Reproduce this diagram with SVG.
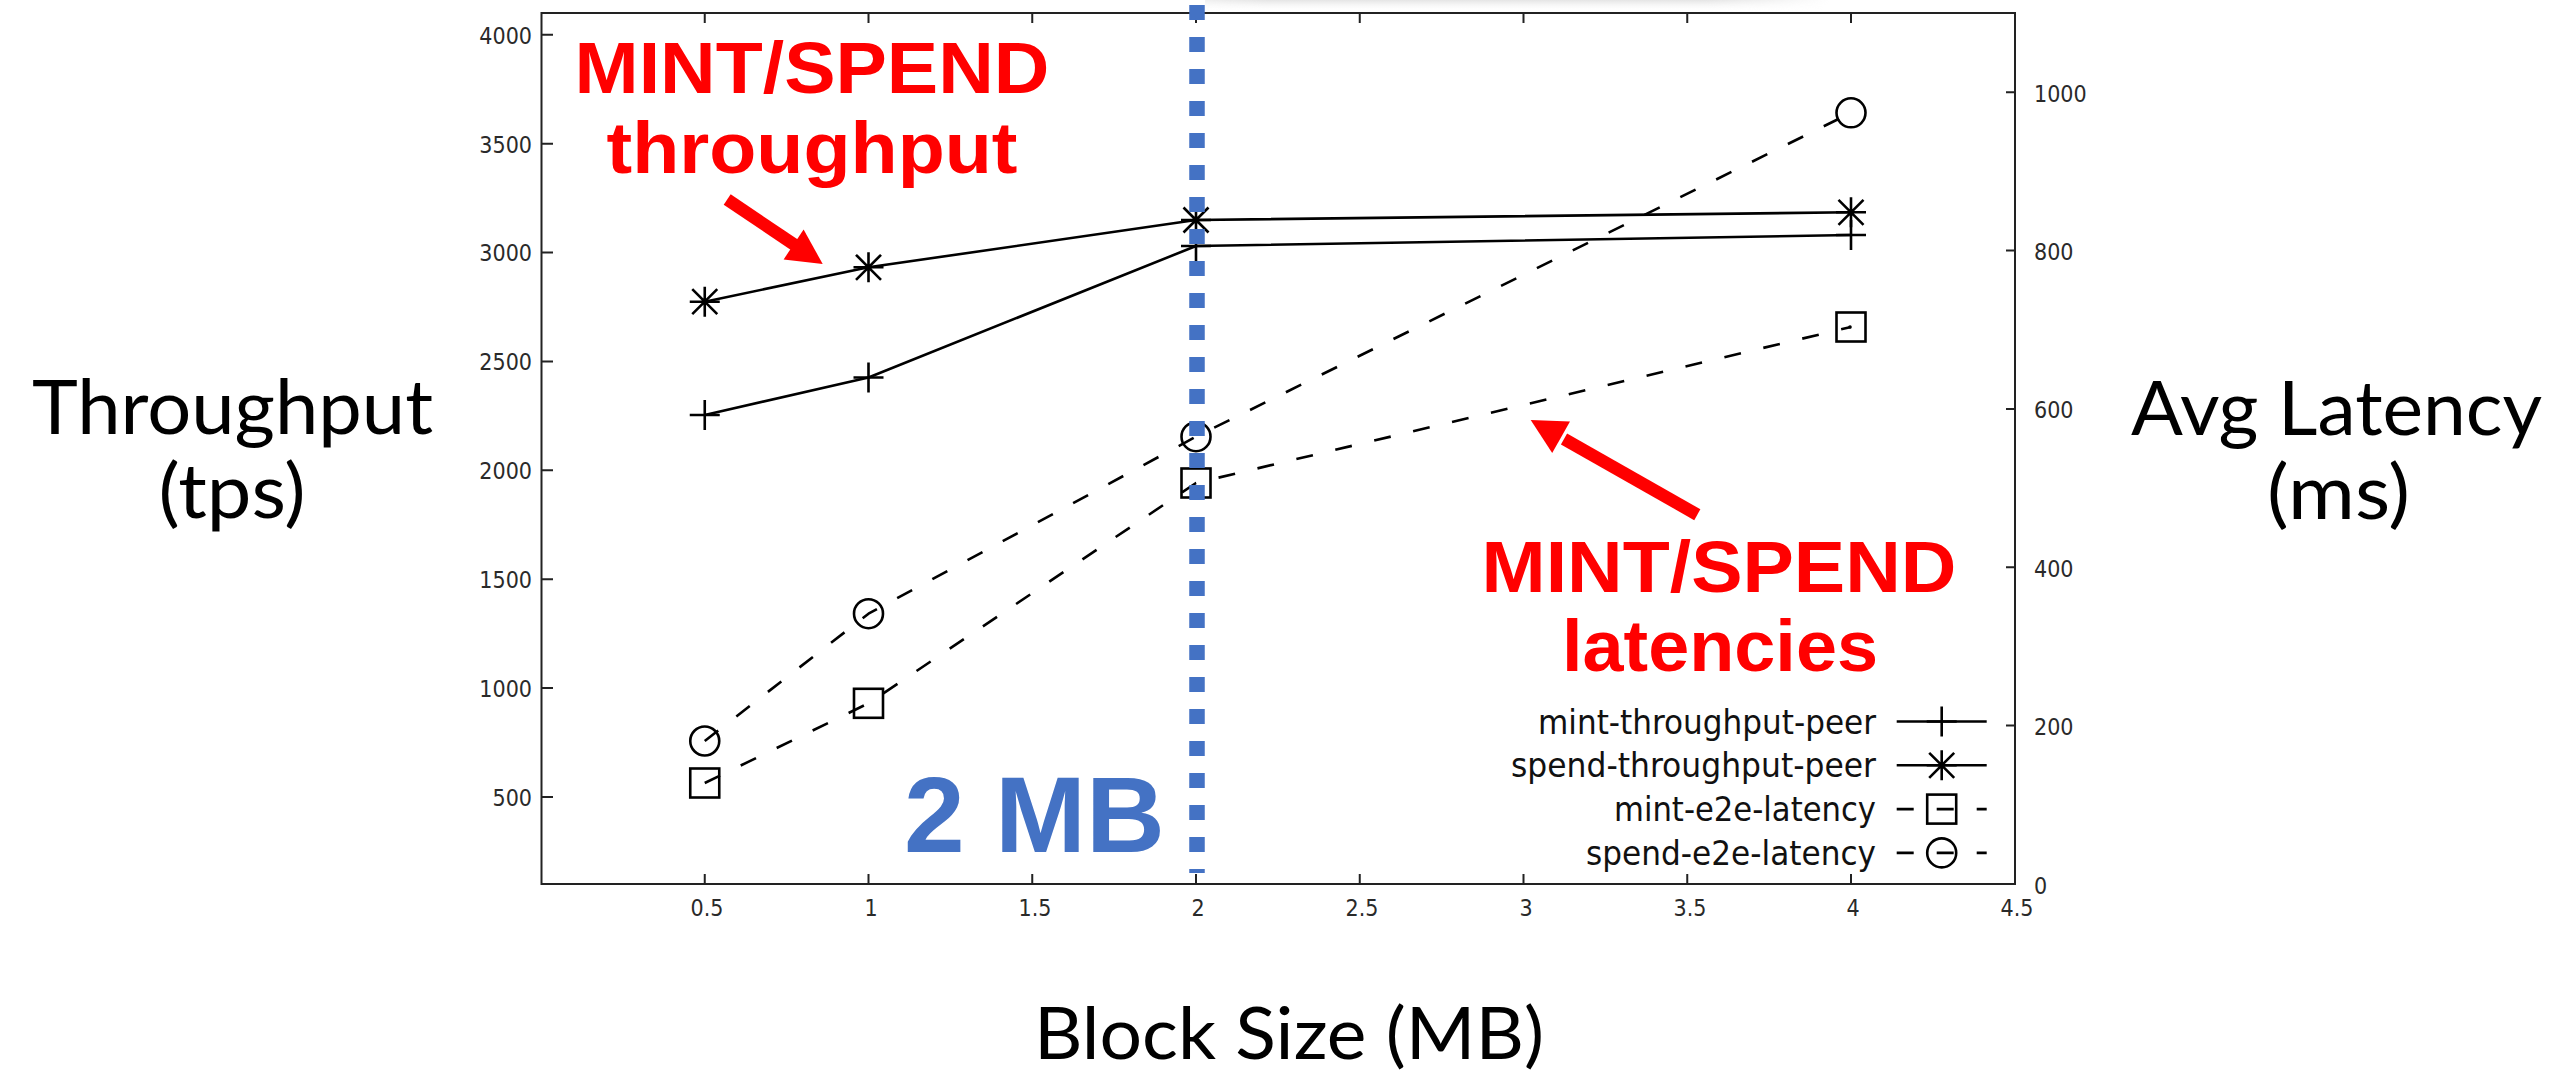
<svg xmlns="http://www.w3.org/2000/svg" xmlns:xlink="http://www.w3.org/1999/xlink" width="2554" height="1071" viewBox="0 0 2554 1071">
  <style>
    .frame { fill: none; stroke: #222; stroke-width: 2; }
    .tick { stroke: #222; stroke-width: 2; }
    .ticklbl { font-family: "DejaVu Sans Condensed", "DejaVu Sans", sans-serif; font-size: 23px; fill: #2a2a2a; }
    .series { fill: none; stroke: #000; stroke-width: 2.6; stroke-linejoin: round; }
    .dashed { stroke-dasharray: 17 23; }
    .pts { fill: none; stroke: #000; stroke-width: 2.6; }
    .legend-txt { font-family: "DejaVu Sans Condensed", "DejaVu Sans", sans-serif; font-size: 33px; fill: #111; text-anchor: end; }
    .axis-title { font-family: Lato, "Noto Sans", "Liberation Sans", sans-serif; font-weight: 400; fill: #000; text-anchor: middle; }
    .callout { font-family: "Liberation Sans", Arial, sans-serif; font-weight: 700; font-size: 72px; fill: #ff0000; text-anchor: middle; }
    .arrow-shaft { stroke: #ff0000; stroke-width: 12.5; fill: none; }
    .arrow-head { fill: #ff0000; }
    .marker-line { stroke: #4472c4; stroke-width: 15.5; stroke-dasharray: 15 17; fill: none; }
    .marker-lbl { font-family: "Liberation Sans", Arial, sans-serif; font-weight: 700; font-size: 107px; fill: #4472c4; }
  </style>
  <defs>
    <!-- gnuplot-style point symbols, centred on the origin -->
    <path id="pt-plus" d="M-15 0H15M0 -15V15"/>
    <path id="pt-star" d="M-15 0H15M0 -15V15M-12.5 -12.5L12.5 12.5M-12.5 12.5L12.5 -12.5"/>
    <rect id="pt-box" x="-14.5" y="-14.5" width="29" height="29"/>
    <circle id="pt-ring" r="14.5"/>
    <linearGradient id="shadeV" x1="0" y1="0" x2="0" y2="1">
      <stop offset="0" stop-color="#e4e4e4"/>
      <stop offset="1" stop-color="#ffffff" stop-opacity="0"/>
    </linearGradient>
    <linearGradient id="fadeX" x1="0" y1="0" x2="1" y2="0">
      <stop offset="0" stop-color="#fff" stop-opacity="0.6"/>
      <stop offset="0.1" stop-color="#fff"/>
      <stop offset="0.8" stop-color="#fff"/>
      <stop offset="1" stop-color="#fff" stop-opacity="0"/>
    </linearGradient>
    <mask id="shadeMask">
      <rect x="1205" y="0" width="625" height="12" fill="url(#fadeX)"/>
    </mask>
  </defs>

  <rect width="2554" height="1071" fill="#fff"/>

  <!-- faint shadow along the top edge -->
  <rect x="1205" y="0" width="625" height="12" fill="url(#shadeV)" mask="url(#shadeMask)"/>

  <!-- plot frame and ticks -->
  <g id="axes">
    <rect class="frame" x="541.5" y="13" width="1473.5" height="871"/>
    <!-- x ticks, bottom and mirrored on top -->
    <path class="tick" d="M704.75 884V874M868.5 884V874M1032.25 884V874M1196 884V874M1359.75 884V874M1523.5 884V874M1687.25 884V874M1851 884V874
                          M704.75 13V23M868.5 13V23M1032.25 13V23M1196 13V23M1359.75 13V23M1523.5 13V23M1687.25 13V23M1851 13V23"/>
    <!-- left (tps) ticks -->
    <path class="tick" d="M541.5 796.9H553M541.5 688H553M541.5 579.2H553M541.5 470.3H553M541.5 361.4H553M541.5 252.5H553M541.5 143.7H553M541.5 34.8H553"/>
    <!-- right (ms) ticks -->
    <path class="tick" d="M2015 725.6H2006M2015 567.3H2006M2015 408.9H2006M2015 250.6H2006M2015 92.2H2006"/>
  </g>

  <g id="y-labels-left" class="ticklbl" text-anchor="end">
    <text x="532" y="806">500</text>
    <text x="532" y="697">1000</text>
    <text x="532" y="588">1500</text>
    <text x="532" y="479">2000</text>
    <text x="532" y="370">2500</text>
    <text x="532" y="261">3000</text>
    <text x="532" y="153">3500</text>
    <text x="532" y="44">4000</text>
  </g>

  <g id="y-labels-right" class="ticklbl" text-anchor="start">
    <text x="2034" y="894">0</text>
    <text x="2034" y="735">200</text>
    <text x="2034" y="577">400</text>
    <text x="2034" y="418">600</text>
    <text x="2034" y="260">800</text>
    <text x="2034" y="102">1000</text>
  </g>

  <g id="x-labels" class="ticklbl" text-anchor="middle">
    <text x="707" y="916">0.5</text>
    <text x="871" y="916">1</text>
    <text x="1035" y="916">1.5</text>
    <text x="1198" y="916">2</text>
    <text x="1362" y="916">2.5</text>
    <text x="1526" y="916">3</text>
    <text x="1690" y="916">3.5</text>
    <text x="1853" y="916">4</text>
    <text x="2017" y="916">4.5</text>
  </g>

  <!-- data series -->
  <g id="series-mint-throughput">
    <polyline class="series" points="704.75,415 868.5,377.5 1196,246 1851,235"/>
    <g class="pts">
      <use href="#pt-plus" x="704.75" y="415"/>
      <use href="#pt-plus" x="868.5" y="377.5"/>
      <use href="#pt-plus" x="1196" y="246"/>
      <use href="#pt-plus" x="1851" y="235"/>
    </g>
  </g>
  <g id="series-spend-throughput">
    <polyline class="series" points="704.75,301.7 868.5,267.3 1196,220 1851,212.3"/>
    <g class="pts">
      <use href="#pt-star" x="704.75" y="301.7"/>
      <use href="#pt-star" x="868.5" y="267.3"/>
      <use href="#pt-star" x="1196" y="220"/>
      <use href="#pt-star" x="1851" y="212.3"/>
    </g>
  </g>
  <g id="series-mint-latency">
    <polyline class="series dashed" points="704.75,783 868.5,703.3 1196,483 1851,327"/>
    <g class="pts">
      <use href="#pt-box" x="704.75" y="783"/>
      <use href="#pt-box" x="868.5" y="703.3"/>
      <use href="#pt-box" x="1196" y="483"/>
      <use href="#pt-box" x="1851" y="327"/>
    </g>
    <circle cx="1850" cy="327" r="1.8" fill="#000"/>
  </g>
  <g id="series-spend-latency">
    <polyline class="series dashed" points="704.75,741 868.5,613.7 1196,436.7 1851,112.8"/>
    <g class="pts">
      <use href="#pt-ring" x="704.75" y="741"/>
      <use href="#pt-ring" x="868.5" y="613.7"/>
      <use href="#pt-ring" x="1196" y="436.7"/>
      <use href="#pt-ring" x="1851" y="112.8"/>
    </g>
  </g>

  <!-- key -->
  <g id="legend">
    <text class="legend-txt" x="1876" y="733.5" textLength="338" lengthAdjust="spacingAndGlyphs">mint-throughput-peer</text>
    <text class="legend-txt" x="1876" y="777.3" textLength="365" lengthAdjust="spacingAndGlyphs">spend-throughput-peer</text>
    <text class="legend-txt" x="1876" y="821.1" textLength="262" lengthAdjust="spacingAndGlyphs">mint-e2e-latency</text>
    <text class="legend-txt" x="1876" y="864.9" textLength="290" lengthAdjust="spacingAndGlyphs">spend-e2e-latency</text>
    <g class="pts">
      <path class="series" d="M1896.7 721.5H1986.7"/>
      <use href="#pt-plus" x="1941.7" y="721.5"/>
      <path class="series" d="M1896.7 765.3H1986.7"/>
      <use href="#pt-star" x="1941.7" y="765.3"/>
      <path class="series dashed" d="M1896.7 809.1H1986.7"/>
      <use href="#pt-box" x="1941.7" y="809.1"/>
      <path class="series dashed" d="M1896.7 852.9H1986.7"/>
      <use href="#pt-ring" x="1941.7" y="852.9"/>
    </g>
  </g>

  <!-- 2 MB block-size marker -->
  <g id="block-marker">
    <line class="marker-line" x1="1197" y1="5" x2="1197" y2="873"/>
    <text class="marker-lbl" x="904" y="852" textLength="261" lengthAdjust="spacingAndGlyphs">2 MB</text>
  </g>

  <!-- red callouts -->
  <g id="callout-throughput">
    <text class="callout" x="812" y="93" textLength="475" lengthAdjust="spacingAndGlyphs">MINT/SPEND</text>
    <text class="callout" x="812" y="173" textLength="411" lengthAdjust="spacingAndGlyphs">throughput</text>
  </g>
  <g id="callout-latency">
    <text class="callout" x="1719" y="592" textLength="475" lengthAdjust="spacingAndGlyphs">MINT/SPEND</text>
    <text class="callout" x="1720" y="671" textLength="316" lengthAdjust="spacingAndGlyphs">latencies</text>
  </g>

  <g id="connectors">
    <line class="arrow-shaft" x1="727.2" y1="199.5" x2="797" y2="246.5"/>
    <polygon class="arrow-head" points="822.7,264 783.6,259.5 803.6,229.5"/>
    <line class="arrow-shaft" x1="1697.3" y1="514.7" x2="1564" y2="439"/>
    <polygon class="arrow-head" points="1530.7,420 1570,421.6 1552.2,453"/>
  </g>

  <!-- axis titles -->
  <g id="axis-titles" class="axis-title">
    <text x="232.5" y="434" font-size="75" textLength="401" lengthAdjust="spacingAndGlyphs">Throughput</text>
    <text x="232" y="518" font-size="75" textLength="147" lengthAdjust="spacingAndGlyphs">(tps)</text>
    <text x="2336.5" y="435" font-size="75" textLength="411" lengthAdjust="spacingAndGlyphs">Avg Latency</text>
    <text x="2338.5" y="519" font-size="75" textLength="143" lengthAdjust="spacingAndGlyphs">(ms)</text>
    <text x="1289" y="1059" font-size="71" textLength="510" lengthAdjust="spacingAndGlyphs">Block Size (MB)</text>
  </g>
</svg>
